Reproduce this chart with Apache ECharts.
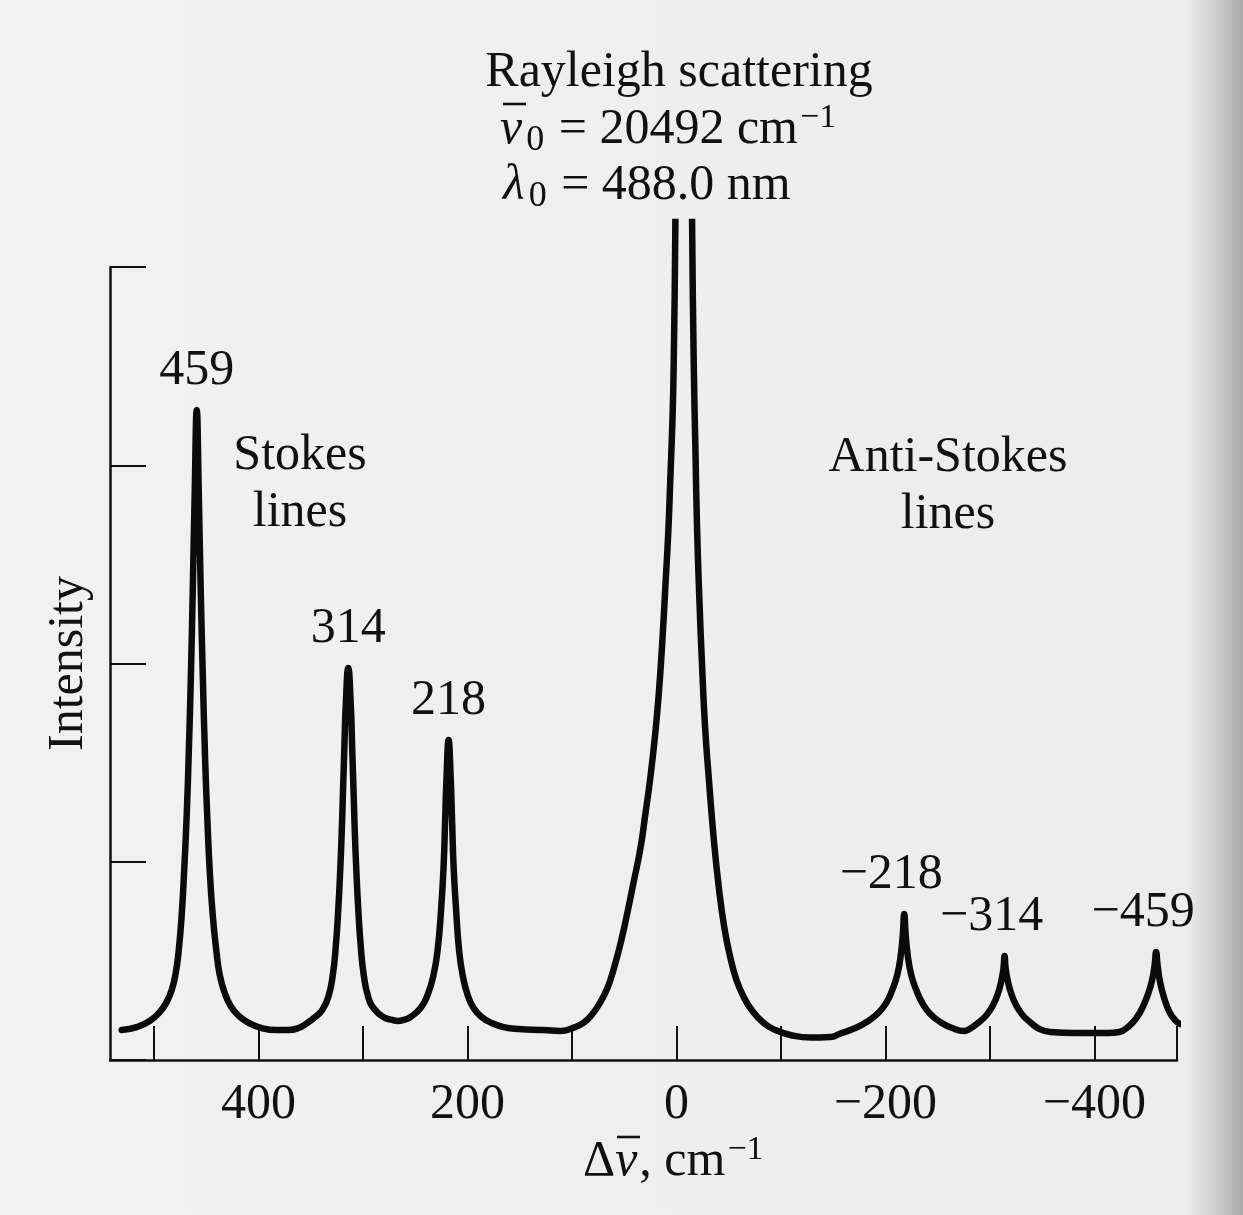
<!DOCTYPE html>
<html>
<head>
<meta charset="utf-8">
<title>Raman spectrum</title>
<script src="https://cdn.jsdelivr.net/npm/echarts@6/dist/echarts.min.js"></script>
<style>
  html, body { margin: 0; padding: 0; background: #efefef; }
  #chart { width: 1243px; height: 1215px; }
</style>
</head>
<body>
<div id="chart"></div>
<script>
// Raman shift (cm^-1) along the traced spectrum, left to right
const shift = [
  // Stokes line 459
  530.8, 516.4, 504.0, 494.4, 487.7, 482.9, 479.1, 476.2, 473.4, 471.0, 468.6, 466.7, 464.7, 462.8, 460.9, 459,
  457.1, 455.2, 453.1, 451.1, 449.0, 446.6, 443.7, 440.3, 437.0, 432.2, 426.5, 418.8, 409.2, 396.8, 382.4,
  // Stokes line 314
  371.4, 361.8, 353.2, 345.6, 338.9, 333.1, 328.8, 326.0, 323.6, 321.7, 320.2, 319.3, 317.8, 316.4, 314,
  311.6, 310.2, 308.7, 307.8, 306.3, 304.4, 302.0, 299.2, 294.9, 289.1, 280.5, 271.9, 266.5,
  // Stokes line 218
  261.1, 254.4, 244.8, 238.1, 232.4, 228.5, 225.2, 222.8, 221.3, 219.9, 218,
  216.1, 214.7, 213.2, 210.8, 208.0, 204.6, 199.8, 194.1, 186.4, 176.9, 165.4, 151.0, 127.1,
  // Rayleigh line (off scale at the top)
  111.0, 99.5, 89.0, 80.4, 72.7, 66.0, 60.0, 53.6, 47.2, 41.1, 34.4, 29.7, 24.9, 20.6, 16.9, 13.4, 10.5, 7.7, 5.7, 3.8,
  2.6, 1.0, -6.7,
  -15.0, -16.6, -18.2, -19.8, -22.0, -24.6, -27.3, -30.9, -35.4, -40.5, -45.9, -51.7, -57.4, -64.4, -72.7, -83.5,
  -94.7, -109.1, -128.2, -147.4,
  // anti-Stokes line -218
  -155.8, -171.1, -183.6, -193.1, -200.8, -206.5, -211.3, -214.7, -216.6, -218,
  -219.4, -221.3, -224.7, -229.5, -235.2, -242.9, -252.4, -263.9, -275.4,
  // anti-Stokes line -314
  -280.5, -288.6, -296.8, -303.0, -307.8, -311.1, -313.0, -314,
  -315.0, -316.9, -320.2, -325.0, -331.2, -339.4, -347.5, -358.0, -381.0,
  // anti-Stokes line -459
  -413.1, -423.6, -433.2, -440.8, -446.6, -451.3, -455.2, -457.6, -459,
  -460.4, -462.8, -466.7, -471.4, -476.2, -482.0, -487.7
];

// Relative intensity at each shift value
const intensity = [
  0.151, 0.166, 0.197, 0.242, 0.293, 0.353, 0.439, 0.555, 0.731, 0.958, 1.236, 1.538, 1.917, 2.371, 2.875, 3.279,
  2.875, 2.371, 1.917, 1.538, 1.236, 0.958, 0.731, 0.555, 0.429, 0.338, 0.272, 0.222, 0.187, 0.161, 0.151,

  0.151, 0.161, 0.187, 0.217, 0.252, 0.318, 0.429, 0.570, 0.757, 0.958, 1.160, 1.311, 1.564, 1.791, 1.977,
  1.791, 1.564, 1.311, 1.160, 0.958, 0.757, 0.570, 0.429, 0.318, 0.257, 0.217, 0.202, 0.197,

  0.202, 0.217, 0.262, 0.328, 0.429, 0.555, 0.757, 0.974, 1.211, 1.438, 1.614,
  1.438, 1.211, 0.974, 0.757, 0.555, 0.429, 0.328, 0.262, 0.217, 0.187, 0.166, 0.156, 0.151,

  0.146, 0.161, 0.187, 0.232, 0.293, 0.363, 0.459, 0.585, 0.736, 0.893, 1.069, 1.241, 1.427, 1.629, 1.846, 2.119, 2.396, 2.673, 2.951, 3.228,
  3.506, 4.227, 9.0,
  4.227, 3.506, 3.077, 2.673, 2.320, 1.982, 1.690, 1.427, 1.135, 0.873, 0.666, 0.515, 0.404, 0.318, 0.247, 0.187,
  0.151, 0.126, 0.113, 0.116,

  0.131, 0.161, 0.197, 0.237, 0.288, 0.353, 0.429, 0.530, 0.631, 0.736,
  0.631, 0.530, 0.429, 0.353, 0.288, 0.232, 0.192, 0.161, 0.146,

  0.156, 0.187, 0.227, 0.277, 0.338, 0.404, 0.464, 0.525,
  0.464, 0.404, 0.338, 0.277, 0.227, 0.187, 0.156, 0.141, 0.136,

  0.136, 0.141, 0.172, 0.217, 0.272, 0.333, 0.404, 0.479, 0.545,
  0.479, 0.393, 0.313, 0.247, 0.207, 0.182, 0.177
];

// Labelled Stokes / anti-Stokes lines
const peakShift = [459, 314, 218, -218, -314, -459];
const peakIntensity = [3.279, 1.977, 1.614, 0.736, 0.525, 0.545];
const peakLabels = ['459', '314', '218', '\u2212218', '\u2212314', '\u2212459'];

// Axis ticks and labels
const xTickValues = [500, 400, 300, 200, 100, 0, -100, -200, -300, -400, -479];
const xLabelValues = [400, 200, 0, -200, -400];
const yTickValues = [0, 1, 2, 3, 4];

// Axis ranges
const xMin = -479, xMax = 542;
const yFrameMax = 4, yPlotMax = 4.227;

const SERIF = '"Liberation Serif", "Times New Roman", serif';
const INK = '#111111';

const richParts = {
  n:   { fontFamily: SERIF, fontSize: 50, color: INK, lineHeight: 58 },
  i:   { fontFamily: SERIF, fontSize: 50, color: INK, lineHeight: 58, fontStyle: 'italic', padding: [0, 2, 0, 0] },
  sub: { fontFamily: SERIF, fontSize: 36, color: INK, lineHeight: 28, verticalAlign: 'bottom', padding: [0, 2, 0, 2] },
  sup: { fontFamily: SERIF, fontSize: 34, color: INK, lineHeight: 32, verticalAlign: 'top', padding: [0, 0, 0, 2] }
};

const minus = v => (v < 0 ? '\u2212' + (-v) : String(v));

// bar drawn over the italic wavenumber symbol
const overbar = (x1, x2, y) => ({
  type: 'line', shape: { x1: x1, y1: y, x2: x2, y2: y },
  style: { stroke: INK, lineWidth: 2.6 }
});

const chart = echarts.init(document.getElementById('chart'), null, { renderer: 'canvas' });

chart.setOption({
  backgroundColor: {
    type: 'linear', x: 0, y: 0, x2: 1, y2: 0,
    colorStops: [
      { offset: 0, color: '#f1f1f1' },
      { offset: 0.955, color: '#ececec' },
      { offset: 0.975, color: '#d2d2d2' },
      { offset: 1, color: '#a9a9a9' }
    ]
  },
  animation: false,
  textStyle: { fontFamily: SERIF, color: INK },
  grid: [
    { left: 110, right: 66, top: 222, bottom: 155 },   // plotting area (taller, clips the Rayleigh line)
    { left: 110, right: 66, top: 267, bottom: 155 }    // intensity frame
  ],
  xAxis: [
    {
      gridIndex: 0, type: 'value', inverse: true, min: xMin, max: xMax,
      axisLine: { show: true, onZero: false, lineStyle: { color: INK, width: 2.5 } },
      axisTick: { show: true, inside: true, length: 34, customValues: xTickValues,
                  lineStyle: { color: INK, width: 2 } },
      axisLabel: { show: true, customValues: xLabelValues, formatter: minus,
                   fontFamily: SERIF, fontSize: 50, color: INK, margin: 20 },
      splitLine: { show: false }
    },
    {
      gridIndex: 1, type: 'value', inverse: true, min: xMin, max: xMax, show: false
    }
  ],
  yAxis: [
    { gridIndex: 0, type: 'value', min: 0, max: yPlotMax, show: false },
    {
      gridIndex: 1, type: 'value', min: 0, max: yFrameMax,
      axisLine: { show: true, onZero: false, lineStyle: { color: INK, width: 2.5 } },
      axisTick: { show: true, inside: true, length: 36, customValues: yTickValues,
                  lineStyle: { color: INK, width: 2 } },
      axisLabel: { show: false },
      splitLine: { show: false },
      name: 'Intensity', nameLocation: 'middle', nameRotate: 90, nameGap: 16,
      nameTextStyle: { fontFamily: SERIF, fontSize: 50, color: INK }
    }
  ],
  series: [
    {
      type: 'line', xAxisIndex: 0, yAxisIndex: 0,
      data: shift.map((x, i) => [x, intensity[i]]),
      showSymbol: false, smooth: 0.5, clip: true,
      lineStyle: { color: '#0b0b0b', width: 6.5, join: 'round', cap: 'round' },
      z: 3
    },
    {
      type: 'scatter', xAxisIndex: 0, yAxisIndex: 0,
      data: peakShift.map((x, i) => ({
        value: [x, peakIntensity[i]],
        label: { offset: [x < 0 ? -13 : 0, 0] }
      })),
      symbolSize: 0, silent: true,
      itemStyle: { opacity: 1 },
      label: {
        show: true, position: 'top', distance: 14,
        formatter: p => peakLabels[p.dataIndex],
        fontFamily: SERIF, fontSize: 50, color: INK, opacity: 1
      }
    }
  ],
  graphic: {
    elements: [
      { type: 'text', x: 679, y: 73,
        style: { text: 'Rayleigh scattering', font: '50px ' + SERIF, fill: INK,
                 align: 'center', verticalAlign: 'middle', textAlign: 'center', textVerticalAlign: 'middle' } },
      { type: 'text', x: 500, y: 130,
        style: { text: '{i|v}{sub|0}{n| = 20492 cm}{sup|\u22121}', rich: richParts, fill: INK,
                 align: 'left', verticalAlign: 'middle', textAlign: 'left', textVerticalAlign: 'middle' } },
      overbar(503, 526, 104),
      { type: 'text', x: 503, y: 186,
        style: { text: '{i|\u03bb}{sub|0}{n| = 488.0 nm}', rich: richParts, fill: INK,
                 align: 'left', verticalAlign: 'middle', textAlign: 'left', textVerticalAlign: 'middle' } },
      { type: 'text', x: 300, y: 484,
        style: { text: 'Stokes\nlines', font: '50px ' + SERIF, fill: INK, lineHeight: 57,
                 align: 'center', verticalAlign: 'middle', textAlign: 'center', textVerticalAlign: 'middle' } },
      { type: 'text', x: 948, y: 486,
        style: { text: 'Anti-Stokes\nlines', font: '50px ' + SERIF, fill: INK, lineHeight: 57,
                 align: 'center', verticalAlign: 'middle', textAlign: 'center', textVerticalAlign: 'middle' } },
      // horizontal axis title
      { type: 'text', x: 583, y: 1162,
        style: { text: '{n|\u0394}{i|v}{n|, cm}{sup|\u22121}', rich: richParts, fill: INK,
                 align: 'left', verticalAlign: 'middle', textAlign: 'left', textVerticalAlign: 'middle' } },
      overbar(617, 640, 1137)
    ]
  }
});
</script>
</body>
</html>
